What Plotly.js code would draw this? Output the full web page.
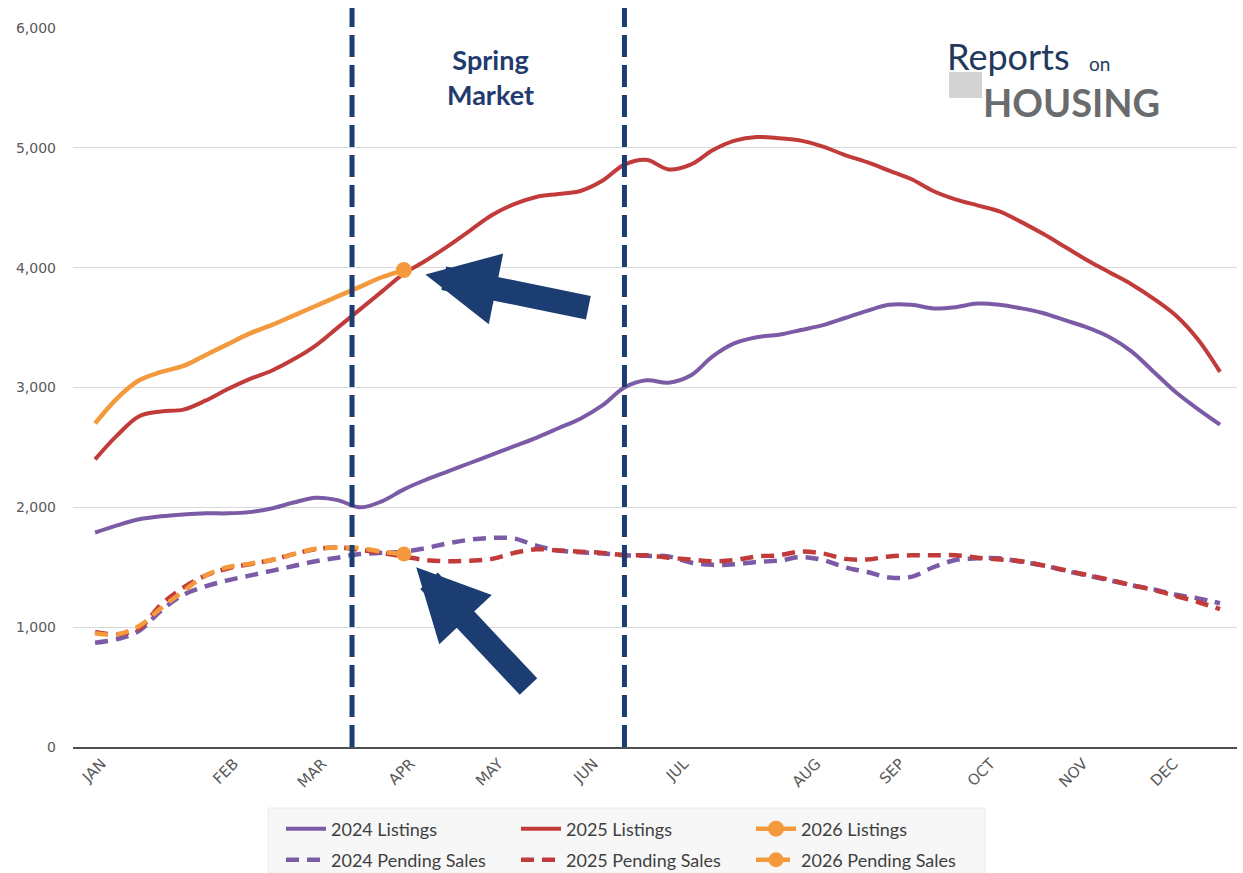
<!DOCTYPE html>
<html><head><meta charset="utf-8">
<script src="https://cdn.plot.ly/plotly-3.0.1.min.js"></script>
<style>html,body{margin:0;padding:0;background:#fff;} #chart{width:1243px;height:873px;}</style>
</head><body><div id="chart"></div>
<script>
// Week index (x) for each data point
const weeks = [1,2,3,4,5,6,7,8,9,10,11,12,13,14,15,16,17,18,19,20,21,22,23,24,25,26,
  27,28,29,30,31,32,33,34,35,36,37,38,39,40,41,42,43,44,45,46,47,48,49,50,51,52];

const listings2024 = [1790,1850,1900,1925,1940,1950,1950,1960,1990,2040,2080,2060,2000,2050,2150,2230,
  2300,2370,2440,2510,2580,2660,2740,2850,3000,3060,3040,3100,3260,3370,3420,3440,3480,3520,3580,3640,
  3690,3690,3660,3670,3700,3690,3660,3620,3560,3500,3420,3300,3130,2960,2820,2690];

const listings2025 = [2400,2600,2760,2800,2815,2890,2985,3070,3140,3235,3350,3500,3650,3800,3950,4060,
  4180,4310,4440,4530,4590,4615,4640,4725,4860,4900,4820,4860,4980,5060,5090,5080,5060,5010,4940,4880,
  4810,4740,4640,4570,4520,4470,4380,4280,4170,4060,3960,3860,3740,3600,3400,3130];

const listings2026 = [2700,2910,3060,3130,3180,3270,3360,3450,3520,3600,3680,3760,3840,3920,3980];

const pending2024 = [870,900,970,1140,1270,1340,1390,1430,1470,1510,1550,1580,1610,1620,1630,1660,
  1700,1730,1745,1740,1680,1640,1625,1615,1600,1595,1590,1540,1520,1525,1545,1555,1585,1560,1500,1460,
  1415,1420,1500,1560,1575,1575,1545,1515,1470,1430,1390,1350,1315,1270,1240,1200];

const pending2025 = [960,940,990,1190,1330,1430,1490,1525,1560,1610,1650,1665,1645,1620,1590,1560,
  1550,1555,1570,1620,1650,1640,1630,1620,1600,1600,1580,1565,1550,1560,1590,1600,1630,1615,1570,1565,
  1590,1600,1600,1600,1580,1565,1550,1515,1475,1435,1395,1350,1310,1260,1210,1150];

const pending2026 = [950,940,1010,1160,1300,1430,1500,1530,1560,1610,1655,1665,1660,1630,1610];

const monthLabels = ['JAN','FEB','MAR','APR','MAY','JUN','JUL','AUG','SEP','OCT','NOV','DEC'];
const monthTickWeeks = [1.3,7.3,11.3,15.3,19.3,23.6,27.7,33.7,37.5,41.6,45.8,49.9];

const springStartWeek = 12.65;
const springEndWeek = 25.0;

const PURPLE = '#7c5ba6', RED = '#c23b3b', ORANGE = '#f49a3d', NAVY = '#1c3d72';
const DASH = '13px,8px';

const n26 = listings2026.length, p26 = pending2026.length;

const traces = [
  {x: weeks, y: listings2024, name: '2024 Listings', mode: 'lines', line:{color:PURPLE,width:4,shape:'spline'}, legend:'legend'},
  {x: weeks, y: listings2025, name: '2025 Listings', mode: 'lines', line:{color:RED,width:4,shape:'spline'}, legend:'legend'},
  {x: weeks.slice(0, n26), y: listings2026, name: '2026 Listings', mode: 'lines',
    line:{color:ORANGE,width:4.5,shape:'spline'}, showlegend:false},
  {x: [weeks[n26-1]], y: [listings2026[n26-1]], name: '2026 Listings', mode: 'lines+markers',
    line:{color:ORANGE,width:4.5}, marker:{color:ORANGE,size:16}, legend:'legend'},
  {x: weeks, y: pending2024, name: '2024 Pending Sales', mode: 'lines', line:{color:PURPLE,width:4.5,shape:'spline',dash:DASH}, legend:'legend2'},
  {x: weeks, y: pending2025, name: '2025 Pending Sales', mode: 'lines', line:{color:RED,width:4.5,shape:'spline',dash:DASH}, legend:'legend2'},
  {x: weeks.slice(0, p26), y: pending2026, name: '2026 Pending Sales', mode: 'lines',
    line:{color:ORANGE,width:4.5,shape:'spline',dash:DASH}, showlegend:false},
  {x: [weeks[p26-1]], y: [pending2026[p26-1]], name: '2026 Pending Sales', mode: 'lines+markers',
    line:{color:ORANGE,width:4.5,dash:DASH}, marker:{color:ORANGE,size:15}, legend:'legend2'}
];

const W = 1243, H = 873;
const L = 73, R = 1237, T = 28, B = 747;
const px = v => (v - L) / (R - L);
const py = v => (B - v) / (B - T);
const cx = v => v / W;
const cy = v => 1 - v / H;

const legendCommon = {orientation: 'h', xref: 'container', yref: 'container', xanchor: 'left', yanchor: 'middle',
  bgcolor: 'rgba(0,0,0,0)', font: {family: 'Lato, sans-serif', size: 18, color: '#404040'},
  entrywidth: 180, entrywidthmode: 'pixels', itemwidth: 40};

const layout = {
  width: W, height: H,
  margin: {l: L, r: W - R, t: T, b: H - B, autoexpand: false},
  paper_bgcolor: '#ffffff', plot_bgcolor: '#ffffff',
  font: {family: 'DejaVu Sans, sans-serif', color: '#595959'},
  xaxis: {
    range: [0, 52.77], tickmode: 'array', tickvals: monthTickWeeks, ticktext: monthLabels,
    tickangle: -45, tickfont: {size: 15, color: '#595959'}, showgrid: false, zeroline: false,
    showline: true, linecolor: '#505050', linewidth: 2, ticks: '', automargin: false
  },
  yaxis: {
    range: [0, 6000], dtick: 1000, tickformat: ',d', tickfont: {size: 14, color: '#595959'},
    gridcolor: '#d9d9d9', gridwidth: 1, zeroline: false, showline: false, ticklabelstandoff: 16, automargin: false
  },
  showlegend: true,
  legend: Object.assign({x: cx(281), y: cy(829)}, legendCommon),
  legend2: Object.assign({x: cx(281), y: cy(860)}, legendCommon),
  shapes: [
    {type: 'rect', xref: 'paper', yref: 'paper', x0: px(268), x1: px(985), y0: py(808), y1: py(873),
      fillcolor: '#f7f7f7', line: {color: '#ececec', width: 1}, layer: 'below'},
    {type: 'line', xref: 'x', yref: 'paper', x0: springStartWeek, x1: springStartWeek, y0: 0, y1: py(8),
      line: {color: NAVY, width: 5, dash: '22px,8px'}},
    {type: 'line', xref: 'x', yref: 'paper', x0: springEndWeek, x1: springEndWeek, y0: 0, y1: py(8),
      line: {color: NAVY, width: 5, dash: '22px,8px'}},
    {type: 'rect', xref: 'paper', yref: 'paper', x0: px(949), x1: px(982), y0: py(98), y1: py(72),
      fillcolor: '#d3d3d3', line: {width: 0}, layer: 'below'}
  ],
  annotations: [
    {xref: 'paper', yref: 'paper', x: px(490), y: py(77), xanchor: 'center', yanchor: 'middle', showarrow: false,
      text: '<b>Spring<br>Market</b>', font: {family: 'Lato, sans-serif', size: 27, color: '#1f3b6f'}},
    {xref: 'paper', yref: 'paper', x: px(945), y: py(56), xanchor: 'left', yanchor: 'middle', showarrow: false,
      text: 'Reports', font: {family: 'Lato, sans-serif', size: 36, color: '#1f3a5c'}},
    {xref: 'paper', yref: 'paper', x: px(1087), y: py(63), xanchor: 'left', yanchor: 'middle', showarrow: false,
      text: 'on', font: {family: 'Lato, sans-serif', size: 19, color: '#1f3a5c'}},
    {xref: 'paper', yref: 'paper', x: px(981), y: py(102), xanchor: 'left', yanchor: 'middle', showarrow: false,
      text: '<b>HOUSING</b>', font: {family: 'Lato, sans-serif', size: 38, color: '#6a6b6d'}},
    {x: weeks[n26 - 1], y: listings2026[n26 - 1], xref: 'x', yref: 'y', showarrow: true, text: '',
      ax: 186, ay: 38, arrowhead: 2, arrowwidth: 24, arrowsize: 0.6, arrowcolor: NAVY, standoff: 22},
    {x: weeks[p26 - 1], y: pending2026[p26 - 1], xref: 'x', yref: 'y', showarrow: true, text: '',
      ax: 126, ay: 134, arrowhead: 2, arrowwidth: 24, arrowsize: 0.6, arrowcolor: NAVY, standoff: 18}
  ]
};

Plotly.newPlot('chart', traces, layout, {displayModeBar: false, staticPlot: true});
</script>
</body></html>
